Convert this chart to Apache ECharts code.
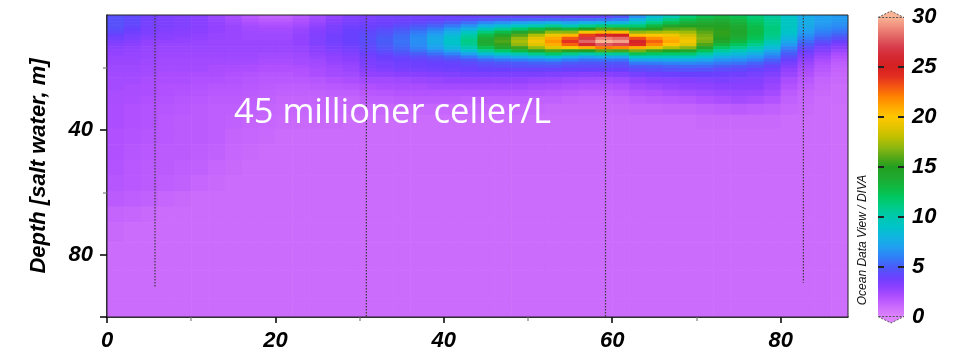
<!DOCTYPE html>
<html>
<head>
<meta charset="utf-8">
<script src="https://cdn.jsdelivr.net/npm/echarts@6/dist/echarts.min.js"></script>
<style>html,body{margin:0;padding:0;background:#fff}#c{width:955px;height:355px}</style>
</head>
<body>
<div id="c"></div>
<script>
// ---- data ----
const xCenters = [1,3,5,7,9,11,13,15,17,19,21,23,25,27,29,31,33,35,37,39,41,43,45,47,49,51,53,55,57,59,61,63,65,67,69,71,73,75,77,79,81,83,85,87];
const depths = [3.5,4.5,5.5,6.5,7.5,8.5,9.5,10.5,11.5,12.5,13.5,14.5,15.5,16.5,17.5,18.5,19.5,20.5,22,24,26,28,30,33,37,42,47,52,57,62,67,72,80,90,98];
// one profile (values at the depths above) per x column
const field = [
[4.6,4.6,4.6,4.6,4.5,4.3,4.0,3.7,3.4,3.2,3.0,2.9,2.8,2.7,2.6,2.6,2.5,2.5,2.4,2.3,2.3,2.2,2.2,2.1,2.1,2.0,2.0,1.9,1.8,1.6,1.3,1.1,1.0,1.0,1.0],
[4.3,4.3,4.3,4.2,4.0,3.8,3.6,3.4,3.2,3.0,2.9,2.8,2.7,2.7,2.6,2.6,2.5,2.5,2.4,2.3,2.2,2.2,2.1,2.0,2.0,1.9,1.8,1.7,1.7,1.5,1.2,1.0,1.0,1.0,1.0],
[3.7,3.7,3.6,3.6,3.5,3.4,3.3,3.1,2.9,2.8,2.7,2.7,2.6,2.6,2.5,2.5,2.4,2.4,2.3,2.2,2.1,2.1,2.0,1.9,1.9,1.8,1.7,1.6,1.6,1.4,1.1,1.0,1.0,1.0,1.0],
[3.4,3.4,3.4,3.4,3.3,3.2,3.1,3.0,2.8,2.7,2.6,2.6,2.5,2.5,2.4,2.4,2.3,2.3,2.2,2.1,2.0,2.0,1.9,1.8,1.7,1.7,1.6,1.6,1.5,1.2,1.0,1.0,1.0,1.0,1.0],
[3.3,3.3,3.3,3.3,3.2,3.1,3.0,2.9,2.8,2.7,2.6,2.6,2.5,2.5,2.4,2.4,2.3,2.3,2.2,2.1,2.0,1.9,1.8,1.7,1.6,1.6,1.6,1.5,1.4,1.1,1.0,1.0,1.0,1.0,1.0],
[3.1,3.1,3.1,3.1,3.0,3.0,2.9,2.8,2.7,2.7,2.6,2.6,2.5,2.5,2.4,2.4,2.3,2.3,2.1,2.0,1.9,1.8,1.7,1.6,1.6,1.6,1.5,1.4,1.2,1.0,1.0,1.0,1.0,1.0,1.0],
[2.6,2.7,2.8,2.8,2.8,2.8,2.7,2.7,2.6,2.6,2.6,2.6,2.5,2.5,2.4,2.4,2.2,2.2,2.1,2.0,1.8,1.7,1.6,1.5,1.5,1.5,1.4,1.2,1.1,1.0,1.0,1.0,1.0,1.0,1.0],
[2.2,2.3,2.5,2.6,2.6,2.6,2.6,2.6,2.6,2.6,2.6,2.6,2.5,2.5,2.4,2.3,2.2,2.1,2.0,1.9,1.8,1.7,1.6,1.5,1.4,1.3,1.2,1.1,1.0,1.0,1.0,1.0,1.0,1.0,1.0],
[1.7,1.9,2.1,2.3,2.4,2.5,2.5,2.5,2.6,2.6,2.6,2.6,2.5,2.5,2.4,2.3,2.1,2.1,1.9,1.8,1.7,1.6,1.5,1.4,1.3,1.2,1.1,1.0,1.0,1.0,1.0,1.0,1.0,1.0,1.0],
[1.4,1.6,1.9,2.1,2.3,2.4,2.5,2.5,2.6,2.6,2.6,2.6,2.4,2.4,2.2,2.2,2.0,2.0,1.8,1.7,1.6,1.5,1.4,1.3,1.2,1.1,1.0,1.0,1.0,1.0,1.0,1.0,1.0,1.0,1.0],
[1.4,1.6,1.9,2.1,2.3,2.4,2.5,2.5,2.6,2.6,2.6,2.6,2.4,2.4,2.2,2.2,2.0,2.0,1.8,1.7,1.5,1.4,1.3,1.2,1.1,1.0,1.0,1.0,1.0,1.0,1.0,1.0,1.0,1.0,1.0],
[1.8,2.0,2.2,2.4,2.6,2.7,2.8,2.8,2.8,2.8,2.7,2.7,2.5,2.5,2.3,2.3,2.1,2.0,1.9,1.7,1.5,1.4,1.3,1.2,1.1,1.0,1.0,1.0,1.0,1.0,1.0,1.0,1.0,1.0,1.0],
[2.3,2.5,2.7,2.9,3.1,3.2,3.3,3.3,3.3,3.3,3.1,3.0,2.8,2.7,2.5,2.4,2.3,2.2,2.1,1.8,1.6,1.4,1.3,1.2,1.1,1.0,1.0,1.0,1.0,1.0,1.0,1.0,1.0,1.0,1.0],
[2.8,3.0,3.2,3.4,3.5,3.6,3.7,3.7,3.7,3.6,3.5,3.3,3.1,2.9,2.8,2.7,2.5,2.4,2.3,2.0,1.7,1.5,1.3,1.2,1.1,1.0,1.0,1.0,1.0,1.0,1.0,1.0,1.0,1.0,1.0],
[3.2,3.4,3.6,3.8,3.9,4.0,4.0,4.0,4.0,3.9,3.7,3.5,3.3,3.1,3.0,2.8,2.7,2.6,2.4,2.1,1.8,1.5,1.3,1.2,1.0,1.0,1.0,1.0,1.0,1.0,1.0,1.0,1.0,1.0,1.0],
[3.4,3.6,3.8,3.9,4.1,4.3,4.4,4.5,4.5,4.4,4.3,4.1,3.9,3.7,3.5,3.4,3.3,3.1,2.8,2.4,2.0,1.7,1.5,1.2,1.0,1.0,1.0,1.0,1.0,1.0,1.0,1.0,1.0,1.0,1.0],
[3.6,3.7,3.9,4.1,4.4,4.6,4.8,5.0,5.0,4.9,4.8,4.5,4.2,4.0,3.8,3.6,3.5,3.3,2.9,2.4,2.1,1.8,1.5,1.2,1.0,1.0,1.0,1.0,1.0,1.0,1.0,1.0,1.0,1.0,1.0],
[3.7,3.8,4.1,4.4,4.8,5.1,5.4,5.5,5.6,5.5,5.3,5.0,4.6,4.2,4.0,3.8,3.7,3.5,3.0,2.5,2.2,1.9,1.6,1.2,1.0,1.0,1.0,1.0,1.0,1.0,1.0,1.0,1.0,1.0,1.0],
[3.7,3.9,4.3,4.8,5.3,5.8,6.2,6.4,6.5,6.4,6.1,5.6,5.0,4.5,4.1,3.9,3.8,3.6,3.1,2.6,2.2,1.9,1.6,1.2,1.0,1.0,1.0,1.0,1.0,1.0,1.0,1.0,1.0,1.0,1.0],
[3.8,4.0,4.6,5.2,5.9,6.6,7.1,7.5,7.6,7.4,7.0,6.3,5.5,4.8,4.3,4.0,3.9,3.7,3.2,2.7,2.3,1.9,1.6,1.2,1.0,1.0,1.0,1.0,1.0,1.0,1.0,1.0,1.0,1.0,1.0],
[3.9,4.2,5.0,5.8,6.8,7.7,8.4,8.8,9.0,8.8,8.2,7.3,6.1,5.2,4.5,4.1,4.0,3.8,3.3,2.8,2.3,1.9,1.6,1.2,1.0,1.0,1.0,1.0,1.0,1.0,1.0,1.0,1.0,1.0,1.0],
[4.0,4.5,5.5,6.6,7.9,9.2,10.2,10.8,11.0,10.7,10.0,8.6,7.1,5.8,4.8,4.4,4.1,3.9,3.4,2.8,2.3,1.9,1.5,1.2,1.0,1.0,1.0,1.0,1.0,1.0,1.0,1.0,1.0,1.0,1.0],
[4.1,4.8,6.2,7.8,9.6,11.4,12.8,13.7,14.0,13.6,12.5,10.6,8.5,6.6,5.3,4.6,4.3,4.0,3.4,2.8,2.3,1.9,1.5,1.2,1.0,1.0,1.0,1.0,1.0,1.0,1.0,1.0,1.0,1.0,1.0],
[4.2,5.0,6.6,8.5,10.7,12.8,14.4,15.5,15.8,15.3,14.1,11.9,9.3,7.1,5.6,4.8,4.4,4.0,3.4,2.8,2.3,1.9,1.5,1.2,1.0,1.0,1.0,1.0,1.0,1.0,1.0,1.0,1.0,1.0,1.0],
[4.2,5.1,7.1,9.2,11.7,14.1,15.9,17.1,17.5,17.0,15.5,13.0,10.1,7.6,5.9,4.9,4.6,4.1,3.4,2.8,2.3,1.9,1.5,1.2,1.0,1.0,1.0,1.0,1.0,1.0,1.0,1.0,1.0,1.0,1.0],
[4.2,5.2,7.5,9.9,12.8,15.5,17.7,19.0,19.5,18.9,17.2,14.3,11.0,8.1,6.1,5.1,4.6,4.1,3.4,2.7,2.2,1.8,1.4,1.2,1.0,1.0,1.0,1.0,1.0,1.0,1.0,1.0,1.0,1.0,1.0],
[4.2,5.3,7.9,10.7,13.9,17.0,19.4,21.0,21.5,20.8,18.9,15.7,11.9,8.6,6.4,5.2,4.6,4.1,3.3,2.6,2.1,1.7,1.4,1.1,1.0,1.0,1.0,1.0,1.0,1.0,1.0,1.0,1.0,1.0,1.0],
[4.1,5.3,7.3,9.8,13.2,16.9,20.5,23.0,24.0,22.8,19.7,15.1,11.0,7.8,5.9,4.9,4.4,4.0,3.2,2.5,2.0,1.6,1.3,1.1,1.0,1.0,1.0,1.0,1.0,1.0,1.0,1.0,1.0,1.0,1.0],
[4.1,5.5,7.9,10.9,15.0,19.5,23.7,26.8,28.0,25.9,20.9,15.0,10.2,7.1,5.5,4.8,4.4,4.0,3.1,2.4,1.9,1.5,1.2,1.1,1.0,1.0,1.0,1.0,1.0,1.0,1.0,1.0,1.0,1.0,1.0],
[4.2,5.7,8.2,11.5,15.9,20.7,25.4,28.7,30.0,27.7,22.3,15.9,10.7,7.4,5.6,4.8,4.4,4.0,3.0,2.4,1.9,1.5,1.2,1.1,1.0,1.0,1.0,1.0,1.0,1.0,1.0,1.0,1.0,1.0,1.0],
[4.8,6.0,8.1,11.4,15.6,20.4,25.0,28.2,29.5,27.2,21.9,15.6,10.6,7.3,5.6,4.8,4.4,4.0,3.2,2.5,2.0,1.6,1.3,1.1,1.0,1.0,1.0,1.0,1.0,1.0,1.0,1.0,1.0,1.0,1.0],
[6.6,8.0,9.5,11.5,14.0,17.0,20.3,23.3,25.5,24.4,20.8,16.5,12.4,9.3,7.1,5.8,4.9,4.4,3.6,2.8,2.3,1.9,1.5,1.2,1.0,1.0,1.0,1.0,1.0,1.0,1.0,1.0,1.0,1.0,1.0],
[8.5,9.7,11.2,13.0,15.1,17.4,19.8,21.7,22.8,21.9,19.1,15.5,12.0,9.2,7.2,5.9,5.0,4.5,3.8,3.0,2.5,2.0,1.6,1.2,1.0,1.0,1.0,1.0,1.0,1.0,1.0,1.0,1.0,1.0,1.0],
[10.0,11.2,12.6,14.2,15.9,17.7,19.4,20.6,21.0,20.2,17.8,14.8,11.8,9.3,7.4,6.1,5.2,4.6,3.9,3.1,2.7,2.2,1.7,1.3,1.0,1.0,1.0,1.0,1.0,1.0,1.0,1.0,1.0,1.0,1.0],
[11.5,12.5,13.6,14.8,16.1,17.3,18.4,19.2,19.5,18.8,16.9,14.3,11.7,9.3,7.5,6.3,5.3,4.7,4.0,3.2,2.8,2.3,1.8,1.3,1.0,1.0,1.0,1.0,1.0,1.0,1.0,1.0,1.0,1.0,1.0],
[12.5,13.3,14.0,14.7,15.4,16.0,16.5,16.8,16.6,15.8,14.3,12.4,10.4,8.6,7.2,6.1,5.3,4.6,4.0,3.3,2.9,2.5,2.0,1.4,1.1,1.0,1.0,1.0,1.0,1.0,1.0,1.0,1.0,1.0,1.0],
[13.0,13.6,14.2,14.7,15.1,15.3,15.2,14.9,14.2,13.2,11.9,10.4,8.9,7.6,6.6,5.8,5.0,4.4,3.9,3.4,3.0,2.6,2.2,1.5,1.1,1.0,1.0,1.0,1.0,1.0,1.0,1.0,1.0,1.0,1.0],
[12.5,13.0,13.5,13.9,14.1,14.2,14.0,13.6,13.0,12.1,11.0,9.7,8.4,7.3,6.4,5.6,4.8,4.3,3.8,3.3,3.0,2.7,2.3,1.6,1.1,1.0,1.0,1.0,1.0,1.0,1.0,1.0,1.0,1.0,1.0],
[11.5,11.9,12.3,12.6,12.8,12.8,12.6,12.3,11.7,10.9,9.9,8.8,7.7,6.8,6.0,5.2,4.6,4.1,3.6,3.2,3.0,2.6,2.2,1.5,1.1,1.0,1.0,1.0,1.0,1.0,1.0,1.0,1.0,1.0,1.0],
[10.5,10.8,11.0,11.2,11.3,11.2,11.0,10.6,10.0,9.2,8.3,7.4,6.6,5.9,5.2,4.6,4.1,3.7,3.3,2.9,2.6,2.3,1.9,1.4,1.1,1.0,1.0,1.0,1.0,1.0,1.0,1.0,1.0,1.0,1.0],
[9.0,9.2,9.3,9.3,9.2,9.0,8.6,8.1,7.5,6.8,6.1,5.5,5.0,4.5,4.0,3.6,3.2,2.9,2.6,2.2,1.9,1.6,1.4,1.2,1.0,1.0,1.0,1.0,1.0,1.0,1.0,1.0,1.0,1.0,1.0],
[7.5,7.6,7.6,7.5,7.2,6.9,6.5,6.0,5.5,5.0,4.5,4.0,3.6,3.2,2.9,2.6,2.4,2.2,2.0,1.7,1.5,1.3,1.2,1.1,1.0,1.0,1.0,1.0,1.0,1.0,1.0,1.0,1.0,1.0,1.0],
[7.0,7.0,6.9,6.7,6.4,6.0,5.6,5.1,4.6,4.1,3.6,3.2,2.8,2.5,2.2,2.0,1.8,1.7,1.5,1.3,1.2,1.1,1.0,1.0,1.0,1.0,1.0,1.0,1.0,1.0,1.0,1.0,1.0,1.0,1.0],
[6.8,6.8,6.6,6.4,6.0,5.6,5.1,4.6,4.0,3.5,3.0,2.6,2.2,1.9,1.7,1.5,1.4,1.3,1.2,1.1,1.0,1.0,1.0,0.9,0.9,0.9,0.9,0.9,0.9,0.9,0.9,0.9,0.9,0.9,0.9]
];
const xLabelTicks = [0,20,40,60,80];
const xMinorTicks = [10,30,50,70];
const yLabelTicks = [40,80];
const yMajorTicks = [40,80,100];
const yMinorTicks = [20,60];
const stationX = [5.7,30.8,59.2,82.7];
const stationBottom = [90.5,100,100,89];
const barTicks = [0,5,10,15,20,25,30];
const barInnerTicks = [5,10,15,20,25];
const palette = ['#de84ff','#cc6cfc','#b050ff','#8c40ff','#6a40ff','#4a5cf8','#3080f8','#20a0f0','#10b4e0','#00c4c8',
 '#00c8b0','#00cc88','#00c860','#10b840','#20a830','#22a020','#58a818','#90b810','#c0c000','#e4c400',
 '#ffc800','#ffa800','#ff8400','#f45810','#e43020','#d42020','#d42830','#d83c4c','#e26464','#f08c7c','#f8b494'];

// ---- build cells ----
const X_MIN = 0, X_MAX = 88, D_MIN = 3, D_MAX = 100;
function edges(arr, lo, hi) {
  return arr.map((v, i) => {
    const a = i === 0 ? lo : (arr[i - 1] + v) / 2;
    const b = i === arr.length - 1 ? hi : (v + arr[i + 1]) / 2;
    return [Math.max(lo, a), Math.min(hi, b)];
  });
}
const xe = edges(xCenters, X_MIN, X_MAX);
const de = edges(depths, D_MIN, D_MAX);
const cells = [];
field.forEach((col, c) => {
  col.forEach((v, r) => {
    cells.push([xCenters[c], depths[r], v, xe[c][0], xe[c][1], de[r][0], de[r][1]]);
  });
});

const FONT = '"Liberation Sans", Arial, sans-serif';
const lblStyle = {fontFamily: FONT, fontWeight: 'bold', fontStyle: 'italic', fontSize: 22, color: '#000'};

const stationSeries = stationX.map((x, i) => ({
  type: 'line', xAxisIndex: 0, yAxisIndex: 0, symbol: 'none', silent: true, z: 5,
  data: [[x, D_MIN], [x, stationBottom[i]]],
  lineStyle: {color: '#3a3a3a', width: 1.2, type: [1.5, 1.5]}
}));

const barTickSeries = {
  type: 'custom', xAxisIndex: 2, yAxisIndex: 2, silent: true, z: 20,
  data: barInnerTicks.map(v => [0, v]),
  renderItem: function (params, api) {
    const a = api.coord([0, api.value(1)]);
    const b = api.coord([1, api.value(1)]);
    const st = {stroke: '#222', lineWidth: 2};
    return {type: 'group', children: [
      {type: 'line', shape: {x1: a[0], y1: a[1], x2: a[0] + 6, y2: a[1]}, style: st},
      {type: 'line', shape: {x1: b[0] - 6, y1: b[1], x2: b[0], y2: b[1]}, style: st}
    ]};
  }
};

const chart = echarts.init(document.getElementById('c'), null, {renderer: 'canvas'});
chart.setOption({
  animation: false,
  backgroundColor: '#fff',
  grid: [
    {left: 107, top: 15, width: 741, height: 302, show: true, borderColor: '#222', borderWidth: 1, backgroundColor: 'transparent', z: 3},
    {left: 878, top: 17, width: 26, height: 300, show: false}
  ],
  xAxis: [
    {type: 'value', gridIndex: 0, min: X_MIN, max: X_MAX, position: 'bottom',
     axisLine: {lineStyle: {color: '#000', width: 1.5}},
     axisTick: {customValues: xLabelTicks, length: 6, lineStyle: {color: '#000', width: 1.5}},
     axisLabel: Object.assign({customValues: xLabelTicks, margin: 13}, lblStyle),
     splitLine: {show: false}},
    {type: 'value', gridIndex: 0, min: X_MIN, max: X_MAX, position: 'bottom',
     axisLine: {show: false},
     axisTick: {customValues: xMinorTicks, length: 4, lineStyle: {color: '#999', width: 1.5}},
     axisLabel: {show: false}, splitLine: {show: false}},
    {type: 'value', gridIndex: 1, min: 0, max: 1, show: false}
  ],
  yAxis: [
    {type: 'value', gridIndex: 0, min: D_MIN, max: D_MAX, inverse: true, position: 'left',
     name: 'Depth [salt water, m]', nameLocation: 'middle', nameGap: 57,
     nameTextStyle: {fontFamily: FONT, fontWeight: 'bold', fontStyle: 'italic', fontSize: 22, color: '#000'},
     axisLine: {lineStyle: {color: '#000', width: 1.5}},
     axisTick: {customValues: yMajorTicks, length: 7, lineStyle: {color: '#000', width: 1.5}},
     axisLabel: Object.assign({customValues: yLabelTicks, margin: 14}, lblStyle),
     splitLine: {show: false}},
    {type: 'value', gridIndex: 0, min: D_MIN, max: D_MAX, inverse: true, position: 'left',
     axisLine: {show: false},
     axisTick: {customValues: yMinorTicks, length: 4, lineStyle: {color: '#999', width: 1.5}},
     axisLabel: {show: false}, splitLine: {show: false}},
    {type: 'value', gridIndex: 1, min: 0, max: 30, position: 'right',
     axisLine: {show: false}, axisTick: {show: false},
     axisLabel: Object.assign({customValues: barTicks, margin: 8}, lblStyle),
     splitLine: {show: false}}
  ],
  visualMap: {
    type: 'continuous', min: 0, max: 30, dimension: 2, seriesIndex: 0, z: 1,
    left: 878, top: 17, itemWidth: 26, itemHeight: 300, padding: 0,
    calculable: false, hoverLink: false, realtime: false,
    inRange: {color: palette}, textStyle: {color: 'transparent'}, text: null
  },
  graphic: [
    {type: 'polygon', shape: {points: [[878, 17.5], [891, 11], [904, 17.5]]}, style: {fill: '#f8b494', stroke: '#555', lineWidth: 1, lineDash: [2, 1.5]}, z: 20},
    {type: 'polygon', shape: {points: [[878, 316.5], [891, 323], [904, 316.5]]}, style: {fill: '#de84ff', stroke: '#555', lineWidth: 1, lineDash: [2, 1.5]}, z: 20},
    {type: 'text', x: 234, y: 113, z: 30, style: {text: '45 millioner celler/L', fill: '#fff', font: '34.5px "Open Sans", sans-serif', align: 'left', verticalAlign: 'middle'}},
    {type: 'text', x: 863, y: 240, rotation: Math.PI / 2, z: 30, style: {text: 'Ocean Data View / DIVA', fill: '#111', font: 'italic 12px "Liberation Sans", Arial, sans-serif', align: 'center', verticalAlign: 'middle'}}
  ],
  series: [
    {
      type: 'custom', xAxisIndex: 0, yAxisIndex: 0, clip: true, silent: true, z: 1,
      encode: {x: 0, y: 1},
      data: cells,
      renderItem: function (params, api) {
        const p0 = api.coord([api.value(3), api.value(5)]);
        const p1 = api.coord([api.value(4), api.value(6)]);
        const x = Math.min(p0[0], p1[0]), y = Math.min(p0[1], p1[1]);
        return {
          type: 'rect',
          shape: {x: x, y: y, width: Math.abs(p1[0] - p0[0]) + 0.6, height: Math.abs(p1[1] - p0[1]) + 0.6},
          style: {fill: api.visual('color')}
        };
      }
    }
  ].concat(stationSeries, [barTickSeries])
});
</script>
</body>
</html>
